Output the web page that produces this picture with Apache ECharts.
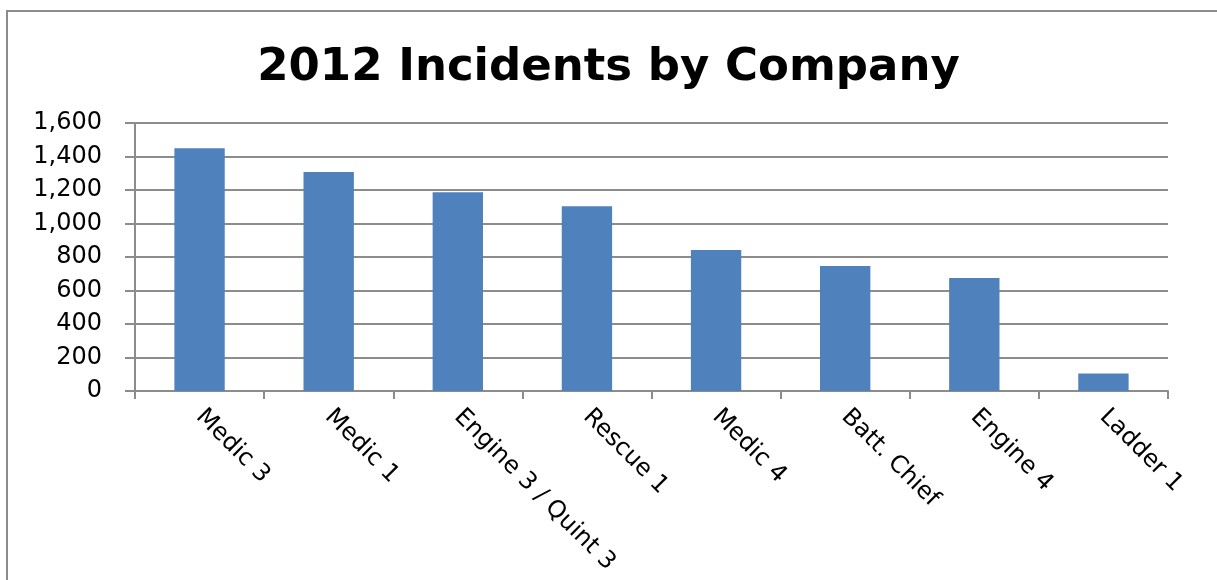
<!DOCTYPE html>
<html>
<head>
<meta charset="utf-8">
<script src="https://cdn.jsdelivr.net/npm/echarts@6/dist/echarts.min.js"></script>
<style>
  html, body { margin: 0; padding: 0; background: #fff; overflow: hidden; }
  #main { width: 1217px; height: 580px; }
</style>
</head>
<body>
<div id="main"></div>
<script>
// 数据
var companies = ['Medic 3', 'Medic 1', 'Engine 3 / Quint 3', 'Rescue 1', 'Medic 4', 'Batt. Chief', 'Engine 4', 'Ladder 1'];
var incidents = [1450, 1307, 1187, 1103, 842, 746, 674, 104];

var myChart = echarts.init(document.getElementById('main'));
var option = {
  animation: false,
  // 图表外框（只有左边和上边可见）
  graphic: [{
    type: 'polyline',
    shape: { points: [[7, 580], [7, 11], [1240, 11]] },
    style: { stroke: '#8c8c8c', lineWidth: 2, fill: null },
    silent: true
  }],
  title: {
    text: '2012 Incidents by Company',
    left: 'center',
    top: 41,
    textStyle: { fontFamily: 'DejaVu Sans', fontWeight: 'bold', fontSize: 45, color: '#000' }
  },
  grid: { left: 135, right: 49, top: 123, bottom: 189 },
  xAxis: {
    type: 'category',
    data: companies,
    axisLine: { lineStyle: { color: '#8c8c8c', width: 2 } },
    axisTick: { show: true, length: 8, lineStyle: { color: '#8c8c8c', width: 2 } },
    axisLabel: {
      rotate: -45,
      margin: 22,
      interval: 0,
      fontFamily: 'DejaVu Sans',
      fontSize: 24,
      color: '#000'
    }
  },
  yAxis: {
    type: 'value',
    min: 0,
    max: 1600,
    interval: 200,
    axisLine: { show: true, lineStyle: { color: '#8c8c8c', width: 2 } },
    axisTick: { show: true, length: 10, lineStyle: { color: '#8c8c8c', width: 2 } },
    splitLine: { lineStyle: { color: '#8c8c8c', width: 2 } },
    axisLabel: {
      margin: 33,
      fontFamily: 'DejaVu Sans',
      fontSize: 24,
      color: '#000',
      formatter: function (v) { return v.toLocaleString('en-US'); }
    }
  },
  series: [{
    type: 'bar',
    data: incidents,
    barWidth: '39%',
    itemStyle: { color: '#4F81BD' }
  }]
};
myChart.setOption(option);
</script>
</body>
</html>
